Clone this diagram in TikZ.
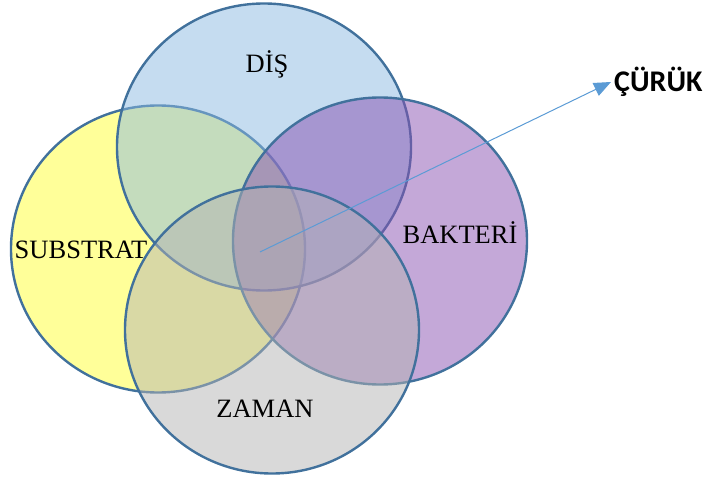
\documentclass[tikz,border=0pt]{standalone}
\usepackage{fontspec}
\setmainfont{Liberation Serif}
\newfontfamily\calibri{Carlito}
\usetikzlibrary{shapes.geometric,arrows.meta}

\definecolor{rand}{RGB}{65,113,156}
\definecolor{pfeil}{RGB}{91,155,213}
\definecolor{gelb}{RGB}{255,255,51}
\definecolor{blau}{RGB}{139,185,225}
\definecolor{lila}{RGB}{137,81,177}
\definecolor{grau}{RGB}{179,179,179}

\begin{document}
\begin{tikzpicture}[x=1pt,y=-1pt]

\def\rx{294pt}
\def\ry{287pt}

\tikzstyle{kreis}=[ellipse,draw=rand,line width=2.4pt,fill opacity=0.5,minimum width=\rx,minimum height=\ry,inner sep=0pt]
\tikzstyle{etikett}=[anchor=base,inner sep=0pt,font=\fontsize{26.5}{30}\selectfont]

\useasboundingbox (0,0) rectangle (709,481);

%ellipses
\node[kreis,fill=gelb] (substrat) at (158,249) {};
\node[kreis,fill=blau] (dis) at (264,147) {};
\node[kreis,fill=lila] (bakteri) at (380,241) {};
\node[kreis,fill=grau] (zaman) at (272,330) {};

%labels
\node[etikett] (substratlabel) at (81,258) {SUBSTRAT};
\node[etikett] (dislabel) at (267,73) {DİŞ};
\node[etikett] (bakterilabel) at (460,243) {BAKTERİ};
\node[etikett] (zamanlabel) at (265,417) {ZAMAN};

% result
\coordinate (mitte) at (260,252);
\node[anchor=west,inner sep=3pt,font=\calibri\bfseries\fontsize{30}{32}\selectfont] (curuk) at (611,82) {ÇÜRÜK};
\draw[pfeil,line width=1pt,-{Triangle[length=17pt,width=14pt]}] (mitte) -- (curuk.west);

\end{tikzpicture}
\end{document}
